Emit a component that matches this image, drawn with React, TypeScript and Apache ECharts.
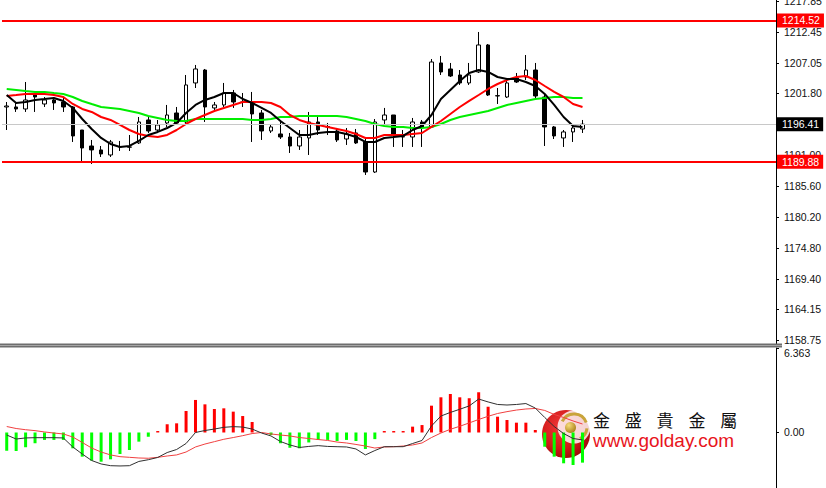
import React, { useEffect, useRef } from 'react';
import * as echarts from 'echarts';

// ---------- data ----------
const slotCount = 82; // candle slots incl. empty right margin
const categories: string[] = Array.from({ length: slotCount }, (_, i) => String(i + 1));

const opens = [1199.42,1199.42,1199.07,1201.51,1199.94,1200.64,1200.29,1199.42,1195.40,1192.61,
1191.92,1191.04,1192.44,1192.40,1193.14,1197.15,1195.40,1196.63,1198.37,1196.80,
1203.61,1205.87,1199.25,1199.77,1201.86,1200.29,1200.12,1198.37,1195.23,1194.71,
1194.18,1192.61,1194.01,1196.80,1195.93,1195.23,1193.83,1194.88,1193.31,1188.07,
1197.15,1198.02,1194.18,1194.18,1196.80,1195.93,1207.10,1206.05,1205.00,1203.61,
1205.53,1210.24,1201.34,1201.16,1204.48,1204.65,1205.87,1201.16,1195.93,1194.01,
1195.06,1195.58];
const closes = [1199.59,1199.07,1200.64,1201.16,1200.64,1200.12,1199.42,1194.36,1192.26,1191.92,
1191.22,1193.31,1192.50,1192.44,1196.80,1195.23,1196.28,1198.02,1196.63,1203.26,
1206.05,1199.42,1199.77,1201.86,1200.29,1200.20,1198.20,1195.23,1195.93,1194.18,
1192.61,1194.18,1196.80,1195.40,1196.00,1193.66,1194.71,1193.14,1188.07,1196.80,
1198.02,1194.53,1194.25,1196.80,1195.93,1207.27,1205.53,1204.83,1203.61,1205.00,
1210.24,1201.51,1201.40,1203.61,1203.78,1205.87,1201.34,1195.93,1194.36,1195.06,
1195.75,1196.41];
const lows = [1195.40,1198.55,1198.55,1198.55,1199.42,1198.90,1198.55,1193.31,1189.82,1189.47,
1190.69,1190.69,1191.74,1191.74,1192.96,1194.88,1194.88,1195.93,1196.28,1196.28,
1202.73,1196.80,1198.55,1199.42,1199.25,1199.42,1193.31,1193.66,1194.88,1193.83,
1191.39,1191.92,1191.04,1194.53,1194.53,1193.31,1192.79,1192.96,1187.55,1187.90,
1196.28,1192.44,1192.44,1192.44,1192.44,1195.75,1205.00,1204.65,1203.26,1203.26,
1205.35,1201.34,1199.94,1200.99,1203.61,1204.13,1200.99,1192.61,1193.83,1192.44,
1193.31,1194.88];
const highs = [1200.29,1200.12,1203.78,1201.86,1201.16,1201.16,1201.16,1199.59,1195.40,1193.66,
1192.61,1193.66,1193.49,1194.53,1197.67,1197.67,1197.15,1199.77,1199.42,1205.00,
1206.75,1206.05,1200.29,1203.61,1202.39,1201.86,1202.04,1198.90,1196.45,1196.80,
1194.88,1195.40,1198.55,1198.02,1196.63,1195.75,1195.75,1195.58,1194.01,1197.32,
1199.25,1198.02,1195.40,1197.50,1197.15,1207.79,1208.32,1207.10,1205.87,1207.10,
1212.51,1210.41,1202.73,1204.13,1205.35,1208.49,1207.10,1201.86,1196.10,1195.40,
1196.28,1197.15];

const maFast = [1201.51,1200.12,1200.29,1200.64,1200.81,1200.99,1200.47,1199.25,1197.32,1195.58,
1194.01,1192.96,1192.44,1192.61,1193.49,1194.53,1195.06,1195.75,1196.63,1198.37,
1199.77,1200.64,1201.16,1201.86,1201.86,1200.81,1200.12,1199.25,1198.37,1196.97,
1195.75,1194.53,1194.53,1194.88,1195.06,1195.06,1194.71,1194.18,1193.31,1193.31,
1194.01,1194.18,1194.36,1195.40,1196.10,1198.02,1200.81,1202.39,1203.96,1205.35,
1205.87,1205.53,1204.65,1204.30,1204.30,1203.78,1203.08,1201.69,1199.77,1197.67,
1196.10,1195.93];
const maMid = [1201.34,1201.51,1201.69,1201.69,1201.69,1201.51,1201.16,1199.94,1199.07,1198.55,
1197.67,1197.15,1196.28,1195.40,1194.71,1194.36,1194.18,1194.53,1195.40,1196.45,
1197.32,1198.02,1198.72,1199.25,1199.77,1200.29,1200.29,1200.29,1200.12,1199.42,
1198.02,1197.15,1196.63,1196.28,1195.93,1195.58,1195.23,1194.71,1194.01,1194.01,
1194.53,1194.53,1194.53,1194.71,1194.88,1195.93,1196.97,1198.20,1199.42,1200.47,
1201.51,1202.56,1203.43,1204.13,1204.65,1204.83,1204.13,1203.08,1202.04,1201.16,
1199.94,1199.42];
const maSlow = [1202.56,1202.39,1202.21,1202.04,1202.04,1201.86,1201.69,1201.16,1200.47,1199.94,
1199.42,1199.25,1199.07,1198.72,1198.37,1197.85,1197.50,1197.15,1196.97,1196.97,
1197.32,1197.32,1197.32,1197.32,1197.32,1197.32,1197.15,1197.15,1197.32,1197.67,
1197.67,1197.85,1197.85,1197.85,1197.85,1197.85,1197.67,1197.32,1196.97,1196.45,
1196.10,1195.93,1195.93,1195.75,1195.75,1195.93,1196.45,1197.15,1197.67,1198.02,
1198.37,1198.72,1199.25,1199.77,1200.12,1200.47,1200.81,1200.99,1201.16,1201.16,
1200.99,1200.99];

const macdHist = [-1.37,-1.39,-1.11,-0.81,-0.56,-0.56,-0.56,-1.19,-1.82,-2.12,
-2.20,-2.02,-1.62,-1.32,-0.69,-0.32,0.11,0.62,0.69,1.62,
2.45,2.12,1.77,1.82,1.57,1.24,0.79,0,-0.19,-0.81,
-1.15,-1.19,-0.75,-0.56,-0.56,-0.64,-0.56,-0.64,-1.24,-0.50,
0.11,0.11,0.11,0.44,0.56,2.02,2.65,2.90,2.65,2.58,
3.03,1.94,1.19,0.94,0.74,0.74,0.19,-1.07,-1.82,-2.32,
-2.45,-2.27];
const macdLine = [-0.19,-0.49,-0.41,-0.39,-0.39,-0.39,-0.41,-1.09,-1.62,-2.11,
-2.37,-2.50,-2.52,-2.50,-2.18,-2.05,-1.88,-1.51,-1.28,-0.83,
0,0.15,0.26,0.39,0.44,0.41,0.26,-0.04,-0.26,-0.68,
-0.94,-1.13,-1.05,-0.99,-1.05,-1.07,-1.09,-1.24,-1.69,-1.36,
-1.07,-1.07,-1.07,-0.83,-0.60,0.49,1.24,1.51,1.75,2.00,
2.52,2.30,2.11,2.07,2.11,2.18,1.84,1.13,0.45,-0.08,
-0.45,-0.56];
const signalLine = [0.45,0.30,0.21,0.14,0.04,-0.04,-0.11,-0.34,-0.75,-1.17,
-1.47,-1.69,-1.82,-1.87,-1.92,-1.94,-1.87,-1.77,-1.69,-1.47,
-1.09,-0.87,-0.69,-0.51,-0.38,-0.24,-0.08,0,-0.11,-0.19,
-0.26,-0.38,-0.45,-0.53,-0.60,-0.72,-0.79,-0.90,-1.02,-1.17,
-1.09,-1.07,-1.02,-0.94,-0.79,-0.38,-0.04,0.24,0.47,0.72,
0.98,1.22,1.43,1.57,1.69,1.77,1.81,1.66,1.36,1.13,
0.87,0.64];

const priceTicks = [1158.75,1164.15,1169.40,1174.80,1180.20,1185.60,1191.00,1201.80,1207.05,1212.45,1217.85];
const macdTicks = [0, 6.363];
const priceMin = 1158.05;
const priceMax = 1218.09;
const macdMin = -4.18;
const macdMax = 6.363;
const resistance = 1214.52;
const support = 1189.88;
const lastPrice = 1196.41;
const brandName = ['金', '盛', '貴', '金', '屬'];
const brandUrl = 'www.golday.com';

const AXIS_FONT = '"Liberation Sans", Arial, sans-serif';

export default function App() {
  const ref = useRef<HTMLDivElement>(null);

  useEffect(() => {
    if (!ref.current) return;
    const chart = echarts.init(ref.current, undefined, { renderer: 'svg' });

    const candleData = opens.map((o, i) => [o, closes[i], lows[i], highs[i]]);

    const lineLabel = (bg: string) => ({
      show: true,
      position: 'end',
      distance: 1,
      backgroundColor: bg,
      color: '#fff',
      fontFamily: AXIS_FONT,
      fontSize: 10.5,
      padding: [2, 4, 1, 5],
      formatter: (p: any) => Number(p.value).toFixed(2),
    });

    const option: any = {
      animation: false,
      backgroundColor: '#fff',
      grid: [
        { left: 2, top: 0, width: 774, height: 344, outerBoundsMode: 'none', containLabel: false },
        { left: 2, top: 348, width: 774, height: 140, outerBoundsMode: 'none', containLabel: false },
      ],
      xAxis: [
        { type: 'category', gridIndex: 0, data: categories, show: false, boundaryGap: true },
        { type: 'category', gridIndex: 1, data: categories, show: false, boundaryGap: true },
      ],
      yAxis: [
        {
          type: 'value', gridIndex: 0, position: 'right', min: priceMin, max: priceMax,
          axisLine: { show: true, lineStyle: { color: '#000', width: 1 } },
          axisTick: { show: true, length: 3, lineStyle: { color: '#000' }, customValues: priceTicks },
          axisLabel: {
            customValues: priceTicks, color: '#111', fontFamily: AXIS_FONT, fontSize: 10.5, margin: 8,
            formatter: (v: number) => v.toFixed(2),
          },
          splitLine: { show: false },
        },
        {
          type: 'value', gridIndex: 1, position: 'right', min: macdMin, max: macdMax,
          axisLine: { show: true, lineStyle: { color: '#000', width: 1 } },
          axisTick: { show: true, length: 3, lineStyle: { color: '#000' }, customValues: macdTicks },
          axisLabel: {
            customValues: macdTicks, color: '#111', fontFamily: AXIS_FONT, fontSize: 10.5, margin: 8,
            formatter: (v: number) => (v === 0 ? '0.00' : '{t|' + v.toFixed(3) + '}'),
            rich: { t: { padding: [10, 0, 0, 0], color: '#111', fontFamily: AXIS_FONT, fontSize: 10.5 } },
          },
          splitLine: { show: false },
        },
      ],
      series: [
        {
          type: 'candlestick', xAxisIndex: 0, yAxisIndex: 0, data: candleData, barWidth: 4,
          itemStyle: { color: '#fff', color0: '#000', borderColor: '#000', borderColor0: '#000', borderColorDoji: '#000', borderWidth: 1 },
          markLine: {
            silent: true, symbol: ['none', 'none'], animation: false,
            data: [
              { yAxis: lastPrice, lineStyle: { color: '#c8c8c8', width: 1, type: 'solid' }, label: lineLabel('#000') },
              { yAxis: resistance, lineStyle: { color: '#ff0000', width: 2, type: 'solid' }, label: lineLabel('#ff0000') },
              { yAxis: support, lineStyle: { color: '#ff0000', width: 2, type: 'solid' }, label: lineLabel('#ff0000') },
            ],
          },
        },
        { type: 'line', xAxisIndex: 0, yAxisIndex: 0, data: maSlow, symbol: 'none', lineStyle: { color: '#00ee00', width: 2 } },
        { type: 'line', xAxisIndex: 0, yAxisIndex: 0, data: maMid, symbol: 'none', lineStyle: { color: '#ff0000', width: 2 } },
        { type: 'line', xAxisIndex: 0, yAxisIndex: 0, data: maFast, symbol: 'none', lineStyle: { color: '#000', width: 2 } },
        {
          type: 'bar', xAxisIndex: 1, yAxisIndex: 1, data: macdHist, barWidth: 3,
          itemStyle: { color: (p: any) => (p.value >= 0 ? '#ff0000' : '#00ff00') },
        },
        { type: 'line', xAxisIndex: 1, yAxisIndex: 1, data: signalLine, symbol: 'none', lineStyle: { color: '#f04040', width: 1 } },
        { type: 'line', xAxisIndex: 1, yAxisIndex: 1, data: macdLine, symbol: 'none', lineStyle: { color: '#303030', width: 1 } },
      ],
      graphic: [
        { type: 'rect', silent: true, z: 100, shape: { x: 0, y: 343.5, width: 782, height: 4 }, style: { fill: '#6e6e6e' } },
        { type: 'line', silent: true, z: 101, shape: { x1: 0, y1: 345.5, x2: 782, y2: 345.5 }, style: { stroke: '#a6a6a6', lineWidth: 1 } },
        {
          type: 'group', silent: true, z: 110,
          children: [
            {
              type: 'circle', shape: { cx: 566, cy: 434, r: 24 },
              style: { fill: new echarts.graphic.RadialGradient(0.4, 0.35, 0.75, [
                { offset: 0, color: '#f23a3a' }, { offset: 0.6, color: '#d01818' }, { offset: 1, color: '#8c0606' },
              ]) },
            },
            { type: 'circle', shape: { cx: 574, cy: 427, r: 16.5 }, style: { fill: 'rgba(255,255,255,0.82)' } },
            { type: 'arc', shape: { cx: 574, cy: 427, r: 13, startAngle: -2.7, endAngle: -0.35 }, style: { stroke: '#c9a43a', lineWidth: 3, fill: 'none' } },
            { type: 'arc', shape: { cx: 574, cy: 427, r: 13, startAngle: 0.1, endAngle: 1.1 }, style: { stroke: '#c9a43a', lineWidth: 3, fill: 'none' } },
            {
              type: 'circle', shape: { cx: 570.5, cy: 427.5, r: 5.5 },
              style: { fill: new echarts.graphic.RadialGradient(0.35, 0.3, 0.8, [
                { offset: 0, color: '#f7dc7a' }, { offset: 1, color: '#a47a10' },
              ]) },
            },
            ...brandName.map((ch, i) => ({
              type: 'text',
              style: { text: ch, x: 593 + i * 31.8, y: 419, fill: '#111', font: '17px "Noto Sans CJK TC"', align: 'left', verticalAlign: 'middle' },
            })),
            {
              type: 'text',
              style: { text: brandUrl, x: 593, y: 440, fill: '#e8141c', font: '19px "Liberation Sans"', align: 'left', verticalAlign: 'middle' },
            },
          ],
        },
      ],
    };

    chart.setOption(option);
    return () => chart.dispose();
  }, []);

  return <div ref={ref} style={{ width: 826, height: 488, position: 'absolute', left: 0, top: 0 }} />;
}
